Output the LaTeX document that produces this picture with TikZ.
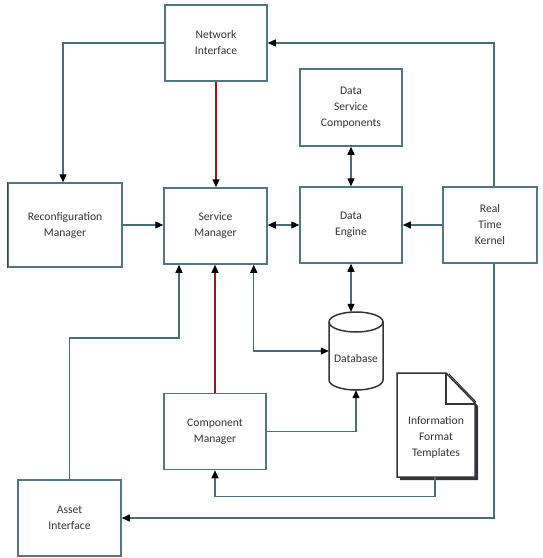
\documentclass[tikz,border=0pt]{standalone}
\usepackage{fontspec}
\setmainfont{Carlito}
\usetikzlibrary{arrows.meta}
\definecolor{edge}{RGB}{84,118,130}
\definecolor{wire}{RGB}{72,108,120}
\definecolor{redwire}{RGB}{140,32,32}
\definecolor{ink}{RGB}{50,52,58}
\begin{document}
\begin{tikzpicture}[x=1pt,y=-1pt,
  block/.style={draw=edge,line width=1.5pt,fill=white,minimum width=102pt,
    minimum height=76pt,align=center,inner sep=0pt,text=ink,
    font=\fontsize{11.6}{16}\selectfont},
  link/.style={draw=wire,line width=1.3pt,-{Triangle[length=8pt,width=7pt,color=black]}},
  dlink/.style={draw=wire,line width=1.3pt,{Triangle[length=8pt,width=7pt,color=black]}-{Triangle[length=8pt,width=7pt,color=black]}},
  rlink/.style={link,draw=redwire,line width=1.2pt},
  label/.style={align=center,inner sep=0pt,text=ink,font=\fontsize{11.6}{16}\selectfont}]
\useasboundingbox[fill=white] (0,0) rectangle (542,558);

% main blocks
\node[block] (ni) at (216,43) {Network\\Interface};
\node[block,minimum width=114pt,minimum height=84pt] (rm) at (65,225) {Reconfiguration\\Manager};
\draw[redwire,line width=1.5pt] (rm.north west) -- (rm.south west);
\node[block,minimum width=103pt] (sm) at (215.5,226) {Service\\Manager};
\node[block,minimum height=77pt] (dsc) at (351,107.5) {Data\\Service\\Components};
\node[block] (de) at (351,225) {Data\\Engine};
\node[block,minimum width=94pt] (rtk) at (490,225) {Real\\Time\\Kernel};
\node[block] (cm) at (215,431.5) {Component\\Manager};
\node[block,minimum width=103pt] (ai) at (69.5,518) {Asset\\Interface};

% database cylinder
\node[minimum width=54pt,minimum height=78pt,inner sep=0pt] (db) at (356,351) {};
\draw[ink,line width=1.5pt,fill=white]
  (329,322) -- (329,380) arc[start angle=180,end angle=0,x radius=27,y radius=10]
  -- (383,322) arc[start angle=0,end angle=-180,x radius=27,y radius=10] -- cycle;
\draw[ink,line width=1.5pt] (329,322) arc[start angle=180,end angle=0,x radius=27,y radius=10];
\node[label] (dbtext) at (356,359) {Database};

% document with folded corner
\node[minimum width=78pt,minimum height=104pt,inner sep=0pt] (ift) at (436,425) {};
\fill[ink] (400,376) -- (449,376) -- (478,406) -- (478,480) -- (400,480) -- cycle;
\draw[ink,line width=1.5pt,fill=white]
  (397,373) -- (446,373) -- (475,403) -- (475,477) -- (397,477) -- cycle;
\draw[ink,line width=1.3pt] (446,373) -- (446,404) -- (475,404);
\draw[ink,line width=1pt] (449,374) -- (476,402);
\node[label] (ifttext) at (436,437) {Information\\Format\\Templates};

% connectors
\coordinate (rail) at (494,518);
\coordinate (aibend) at (179,338);
\draw[link] (ni.west) -| ([xshift=-2pt]rm.north);
\draw[rlink] (ni.south) -- (ni.south |- sm.north);
\draw[link] (rm.east) -- (rm.east -| sm.west);
\draw[dlink] (de.west) -- (de.west -| sm.east);
\draw[dlink] (dsc.south) -- (de.north);
\draw[link] (rtk.west) -- (de.east);
\draw[link] (rail |- rtk.north) |- (ni.east);
\draw[link] (rail |- rtk.south) -- (rail) -- (ai.east);
\draw[dlink] (de.south) -- (de.south |- db.north);
\draw[dlink] ([xshift=-14pt]sm.south east) |- (db.west);
\draw[rlink] (cm.north) -- (cm.north |- sm.south);
\draw[link] (cm.east) -| (db.south);
\draw[link] (ift.south) ++(-1pt,0) -- ++(0,19) -| (cm.south);
\draw[link] (ai.north) |- (aibend) -- (aibend |- sm.south);
\end{tikzpicture}
\end{document}
